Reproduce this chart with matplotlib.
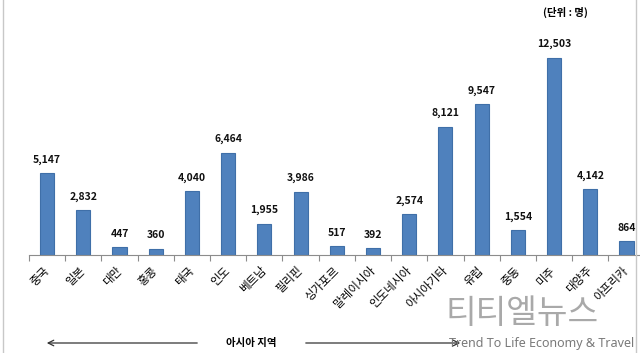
import numpy as np
import matplotlib.pyplot as plt

plt.rcParams['font.family'] = ['Noto Sans CJK KR', 'DejaVu Sans']

regions = ["중국", "일본", "대만", "홍콩", "태국", "인도", "베트남", "필리핀", "싱가포르",
           "말레이시아", "인도네시아", "아시아기타", "유럽", "중동", "미주", "대양주", "아프리카"]
visitors = [5147, 2832, 447, 360, 4040, 6464, 1955, 3986, 517,
            392, 2574, 8121, 9547, 1554, 12503, 4142, 864]

BAR = "#4F81BD"
EDGE = "#3F6FA8"

fig = plt.figure(figsize=(6.4, 3.53), dpi=100)
ax = fig.add_axes([29 / 640, 98.5 / 353, 615.6 / 640, 220.5 / 353])

x = np.arange(len(regions))
ax.bar(x, visitors, width=0.39, color=BAR, edgecolor=EDGE, linewidth=0.8)
for xi, v in zip(x, visitors):
    ax.annotate(f"{v:,}", (xi, v), xytext=(0, 6), textcoords="offset points",
                ha="center", va="bottom", fontsize=7.5, fontweight="bold", color="#111111")

ax.set_xlim(-0.5, len(regions) - 0.5)
ax.set_ylim(0, 14000)
ax.set_yticks([])
for side in ["left", "right", "top"]:
    ax.spines[side].set_visible(False)
ax.spines["bottom"].set_color("#8c8c8c")
ax.spines["bottom"].set_linewidth(0.8)

ax.set_xticks(x)
ax.set_xticklabels(regions, rotation=45, ha="right", va="center",
                   rotation_mode="anchor", fontsize=8.3)
ax.set_xticks(np.arange(-0.5, len(regions)), minor=True)
ax.tick_params(axis="x", which="major", length=0, pad=10)
ax.tick_params(axis="x", which="minor", length=4, color="#8c8c8c", width=0.8)

# unit label
fig.text(565 / 640, 1 - 12 / 353, "(단위 : 명)", ha="center", va="center",
         fontsize=7.5, fontweight="bold")

# asia region arrow
y_arr = 1 - 343 / 353
fig.text(251 / 640, y_arr, "아시아 지역", ha="center", va="center",
         fontsize=7.5, fontweight="bold")
ax.annotate("", xy=(44 / 640, y_arr), xytext=(200 / 640, y_arr),
            xycoords="figure fraction", textcoords="figure fraction",
            arrowprops=dict(arrowstyle="->", color="#333333", lw=0.9))
ax.annotate("", xy=(463 / 640, y_arr), xytext=(303 / 640, y_arr),
            xycoords="figure fraction", textcoords="figure fraction",
            arrowprops=dict(arrowstyle="->", color="#333333", lw=0.9))

# watermark
fig.text(522 / 640, 1 - 314 / 353, "티티엘뉴스", ha="center", va="center",
         fontsize=24, color="#9a9a9a", alpha=0.85)
fig.text(449 / 640, 1 - 343 / 353, "Trend To Life Economy & Travel", ha="left",
         va="center", fontsize=9, color="#7a7a7a", family=["Noto Sans", "DejaVu Sans"])

# frame lines
fig.add_artist(plt.Line2D([3 / 640, 3 / 640], [0, 1], color="#c8c8c8", lw=1))
fig.add_artist(plt.Line2D([636 / 640, 636 / 640], [0, 1], color="#c8c8c8", lw=1))

fig.savefig("out.png", dpi=100)
